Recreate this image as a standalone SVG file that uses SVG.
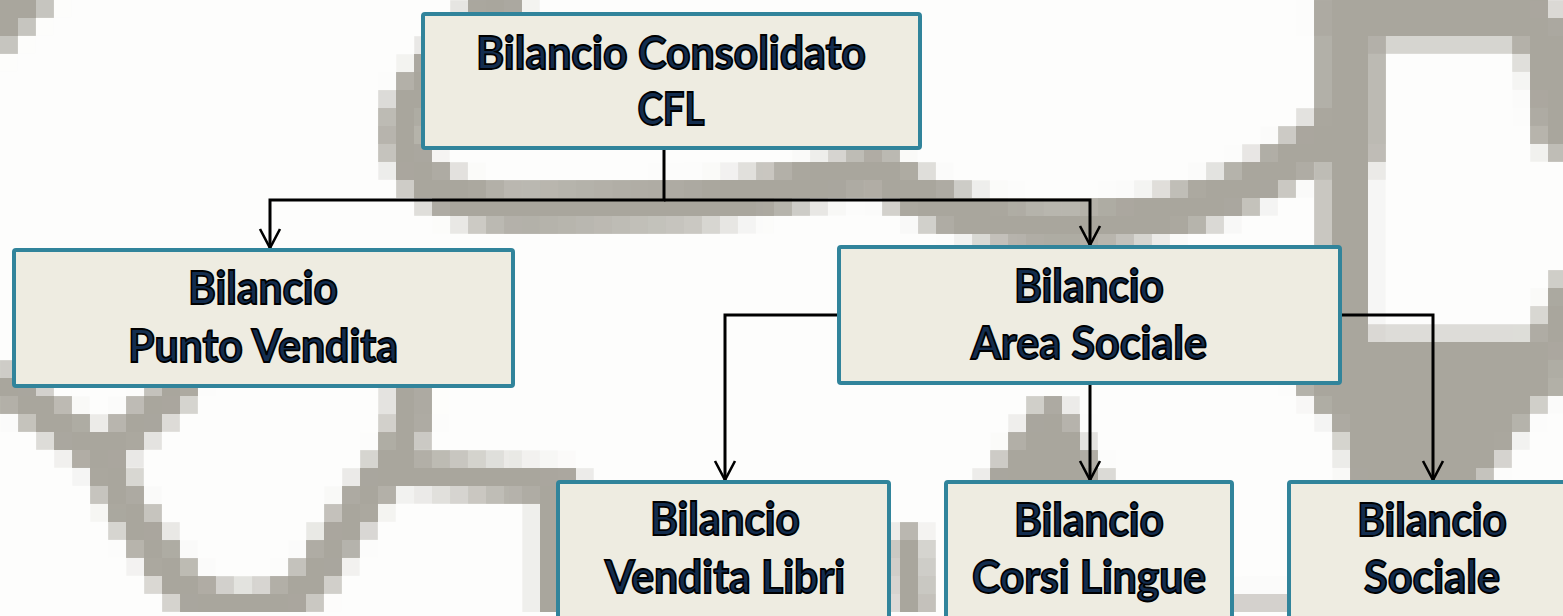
<svg xmlns="http://www.w3.org/2000/svg" width="1563" height="616" viewBox="0 0 1563 616">
  <style>
    .band { fill: none; stroke: #a9a69d; stroke-linecap: round; stroke-linejoin: round; }
    .blob { fill: #a9a69d; stroke: none; }
    .box { fill: #eeece1; stroke: #31849b; stroke-width: 4; }
    .lbl { font-family: Lato, "Open Sans", "Liberation Sans", sans-serif; font-weight: bold; font-size: 45px; fill: #132d4f; stroke: #000; stroke-width: 1.8; text-anchor: middle; }
    .conn { fill: none; stroke: #000; stroke-width: 3; }
  </style>
  <defs>
    <filter id="pix" filterUnits="userSpaceOnUse" x="0" y="0" width="1563" height="616">
      <feGaussianBlur in="SourceGraphic" stdDeviation="5" result="b"/>
      <feFlood x="8" y="8" width="2" height="2" flood-color="#000"/>
      <feComposite width="18" height="18"/>
      <feTile result="t"/>
      <feComposite in="b" in2="t" operator="in"/>
      <feMorphology operator="dilate" radius="8"/>
    </filter>
    <marker id="arr" markerUnits="userSpaceOnUse" viewBox="-24 -14 28 28" refX="0" refY="0" markerWidth="28" markerHeight="28" orient="auto">
      <path d="M-19,-10 L0,0 L-19,10" fill="none" stroke="#000" stroke-width="2.6"/>
    </marker>
  </defs>

  <rect x="0" y="0" width="1563" height="616" fill="#fdfdfc"/>

  <g id="background" filter="url(#pix)">
    <path class="band" stroke-width="50" d="M -25,45 L 45,-25"/>
    <path class="band" stroke-width="44" d="M 525,-30 C 485,30 432,60 408,110 C 392,170 440,206 520,208 L 690,204 C 760,198 820,178 880,168"/>
    <path class="band" stroke-width="46" d="M 885,175 Q 965,232 1080,226 Q 1230,218 1330,130"/>
    <path class="band" stroke-width="62" d="M 1349,-20 L 1349,150"/>
    <path class="band" stroke-width="48" d="M 1346,140 L 1346,340"/>
    <path class="band" stroke-width="52" d="M 1340,18 L 1525,18 Q 1552,28 1560,130"/>
    <path class="blob" d="M 1330,335 L 1563,335 L 1563,392 L 1540,402 L 1500,462 L 1475,490 L 1352,490 L 1340,432 L 1296,384 Z"/>
    <path class="band" stroke-width="38" d="M 1572,290 L 1546,350"/>
    <path class="blob" d="M 1040,398 L 1062,398 L 1112,490 L 978,490 Z"/>
    <path class="band" stroke-width="40" d="M 12,388 L 100,455 L 125,505 L 165,565 Q 195,610 250,608 Q 300,605 325,560 L 360,505 L 395,460 L 410,420 L 410,375"/>
    <path class="band" stroke-width="38" d="M 178,388 L 105,455"/>
    <path class="band" stroke-width="36" d="M 395,470 L 565,486"/>
    <path class="band" stroke-width="24" d="M 548,480 L 548,625"/>
    <path class="band" stroke-width="36" d="M 908,545 L 912,630"/>
    <path class="band" stroke-width="26" opacity="0.5" d="M 1228,606 L 1298,606"/>
  </g>

  <g id="connectors">
    <path class="conn" d="M 664,150 V 200 H 270 V 248" marker-end="url(#arr)"/>
    <path class="conn" d="M 664,200 H 1090 V 245" marker-end="url(#arr)"/>
    <path class="conn" d="M 839,315 H 725 V 480" marker-end="url(#arr)"/>
    <path class="conn" d="M 1090,385 V 480" marker-end="url(#arr)"/>
    <path class="conn" d="M 1342,315 H 1433 V 480" marker-end="url(#arr)"/>
  </g>

  <g id="node-consolidato">
    <rect class="box" x="423" y="14" width="497" height="134" rx="2"/>
    <text class="lbl" x="671" y="69" textLength="390" lengthAdjust="spacingAndGlyphs">Bilancio Consolidato</text>
    <text class="lbl" x="671" y="125" textLength="67" lengthAdjust="spacingAndGlyphs">CFL</text>
  </g>

  <g id="node-punto-vendita">
    <rect class="box" x="14" y="250" width="499" height="136" rx="2"/>
    <text class="lbl" x="263" y="304" textLength="150" lengthAdjust="spacingAndGlyphs">Bilancio</text>
    <text class="lbl" x="263" y="362" textLength="270" lengthAdjust="spacingAndGlyphs">Punto Vendita</text>
  </g>

  <g id="node-area-sociale">
    <rect class="box" x="839" y="247" width="501" height="136" rx="2"/>
    <text class="lbl" x="1089" y="302" textLength="150" lengthAdjust="spacingAndGlyphs">Bilancio</text>
    <text class="lbl" x="1089" y="359" textLength="236" lengthAdjust="spacingAndGlyphs">Area Sociale</text>
  </g>

  <g id="node-vendita-libri">
    <rect class="box" x="558" y="482" width="331" height="170" rx="2"/>
    <text class="lbl" x="725" y="535" textLength="150" lengthAdjust="spacingAndGlyphs">Bilancio</text>
    <text class="lbl" x="725" y="593" textLength="240" lengthAdjust="spacingAndGlyphs">Vendita Libri</text>
  </g>

  <g id="node-corsi-lingue">
    <rect class="box" x="946" y="482" width="286" height="170" rx="2"/>
    <text class="lbl" x="1089" y="536" textLength="150" lengthAdjust="spacingAndGlyphs">Bilancio</text>
    <text class="lbl" x="1089" y="593" textLength="234" lengthAdjust="spacingAndGlyphs">Corsi Lingue</text>
  </g>

  <g id="node-sociale">
    <rect class="box" x="1289" y="482" width="300" height="170" rx="2"/>
    <text class="lbl" x="1432" y="536" textLength="150" lengthAdjust="spacingAndGlyphs">Bilancio</text>
    <text class="lbl" x="1432" y="593" textLength="136" lengthAdjust="spacingAndGlyphs">Sociale</text>
  </g>
</svg>
